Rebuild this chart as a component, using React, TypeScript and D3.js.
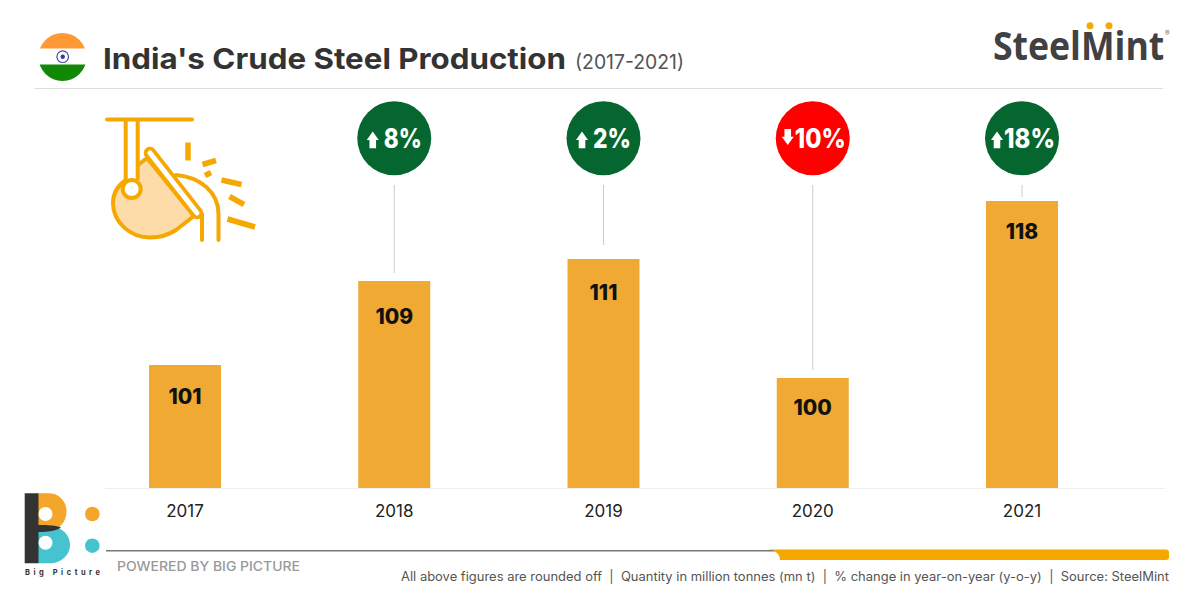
import { useEffect, useRef } from "react"
import * as d3 from "d3"

// printed figures
const years = ["2017", "2018", "2019", "2020", "2021"]
const productionLabels = ["101", "109", "111", "100", "118"]
// bar lengths (the original bars are not quite to scale with the rounded labels)
const barValues = [101.3, 109.7, 111.9, 100, 117.7]
const changeLabels = [null, "8%", "2%", "10%", "18%"]
const changeDirections = [0, 1, 1, -1, 1]

const FONT = "Inter, 'Open Sans', sans-serif"
const BAR = "#f0aa33"
const ICON = "#f5a800"
const GREEN = "#05672f"
const RED = "#fe0000"

type Svg = d3.Selection<SVGSVGElement, unknown, null, undefined>

function label(
  svg: Svg,
  text: string,
  x: number,
  y: number,
  size: number,
  weight: number,
  fill: string,
  width?: number,
  family = FONT
) {
  const t = svg
    .append("text")
    .text(text)
    .attr("x", x)
    .attr("y", y)
    .attr("font-family", family)
    .attr("font-size", size)
    .attr("font-weight", weight)
    .attr("fill", fill)
  if (width) t.attr("textLength", width).attr("lengthAdjust", "spacingAndGlyphs")
  return t
}

function drawFlag(svg: Svg) {
  svg.append("clipPath").attr("id", "flag-clip").append("circle").attr("cx", 62.5).attr("cy", 57).attr("r", 24)
  const g = svg.append("g").attr("clip-path", "url(#flag-clip)")
  g.append("rect").attr("x", 38).attr("y", 32).attr("width", 49).attr("height", 16.5).attr("fill", "#ff9933")
  g.append("rect").attr("x", 38).attr("y", 64.5).attr("width", 49).attr("height", 17).attr("fill", "#128807")
  svg.append("circle").attr("cx", 62.7).attr("cy", 56.7).attr("r", 5.8).attr("fill", "#fff").attr("stroke", "#4a4aa8").attr("stroke-width", 1.2)
  svg.append("circle").attr("cx", 62.7).attr("cy", 56.7).attr("r", 2.2).attr("fill", "#3a3a9a")
}

function drawLadle(svg: Svg) {
  const g = svg.append("g").attr("fill", "none").attr("stroke", ICON).attr("stroke-width", 4)
  // stream
  g.append("path")
    .attr("d", "M176 175C200 177 218.5 192 218.5 214V240")
    .attr("stroke-linecap", "round")
  g.append("path").attr("d", "M202 214V240").attr("stroke-linecap", "round")
  // ladle body
  g.append("path")
    .attr("d", "M147 158L138 165L126 180C117 186 113 194 113 203C113 222 130 237.5 150 237.5C162 237.5 170 234 176 230L194 216Z")
    .attr("fill", "#fddcaa")
    .attr("stroke-linejoin", "round")
  // hanger
  g.append("rect").attr("x", 125.7).attr("y", 120).attr("width", 12).attr("height", 60).attr("fill", "#fff").attr("stroke", "none")
  g.append("path").attr("d", "M107 119.5H192").attr("stroke-linecap", "round")
  g.append("path").attr("d", "M125.7 120V180M137.7 120V180")
  // rim
  g.append("path").attr("d", "M150 153L197 213").attr("stroke-width", 12.5).attr("stroke-linecap", "round")
  g.append("path").attr("d", "M150 153L197 213").attr("stroke", "#fff").attr("stroke-width", 5).attr("stroke-linecap", "round")
  g.append("circle").attr("cx", 131.7).attr("cy", 189).attr("r", 9).attr("fill", "#fff")
  // sparks
  const sparks = [
    "M188 142.5V160.5",
    "M202.5 164.5L216 160.5",
    "M205 175.5L211 172.5",
    "M221.5 180L241.5 184.5",
    "M229.5 196.5L244 204.5",
    "M227.5 219L255 227",
  ]
  g.append("g")
    .selectAll("path")
    .data(sparks)
    .join("path")
    .attr("d", (d) => d)
    .attr("stroke-width", 5.5)
}

function drawBigPicture(svg: Svg) {
  svg.append("path").attr("d", "M38 493.3H48A17.5 17.5 0 0 1 66.5 511C66.5 520 62 526 56 529L38 529Z").attr("fill", "#f4a62a")
  svg.append("path").attr("d", "M38 527H52A18 18 0 0 1 70 545C70 555 61 563.3 50 563.3H38Z").attr("fill", "#45c4d0")
  svg.append("path").attr("d", "M24.7 493.3H38.5V525C48 525 56 525.5 61 527.5C56 531 48 532 38.5 532V563.3H24.7Z").attr("fill", "#333")
  svg.append("circle").attr("cx", 45.5).attr("cy", 514).attr("r", 7).attr("fill", "#fff")
  svg.append("circle").attr("cx", 45.5).attr("cy", 542.7).attr("r", 7).attr("fill", "#fff")
  svg.append("circle").attr("cx", 92.3).attr("cy", 514).attr("r", 7.3).attr("fill", "#f4a62a")
  svg.append("circle").attr("cx", 92.3).attr("cy", 545.7).attr("r", 7.3).attr("fill", "#45c4d0")
  label(svg, "Big Picture", 25, 574.5, 7.5, 700, "#333", 75).attr("lengthAdjust", "spacing")
}

function drawSteelMint(svg: Svg) {
  label(svg, "SteelMint", 0, 0, 40, 700, "#414042", undefined, "'Open Sans', sans-serif")
    .attr("transform", "translate(993,60) scale(0.89,1)")
  svg.append("circle").attr("cx", 1090).attr("cy", 25.7).attr("r", 3.5).attr("fill", ICON)
  svg.append("circle").attr("cx", 1109).attr("cy", 25.7).attr("r", 3.5).attr("fill", ICON)
  label(svg, "®", 1165, 36, 7, 400, "#777")
}

export default function App() {
  const svgRef = useRef<SVGSVGElement | null>(null)

  useEffect(() => {
    if (!svgRef.current) return
    const svg = d3.select(svgRef.current)
    svg.selectAll("*").remove()

    const x = d3.scaleBand<string>().domain(years).range([11.75, 1195.25]).padding(0.656)
    const y = d3.scaleLinear().domain([89, 119]).range([488, 188])
    const badgeY = 138.3
    const connectorGaps = [0, 8, 14, 8, 4]
    const labelOffsets = [39, 43, 41, 37, 38]
    const centre = (year: string) => (x(year) ?? 0) + x.bandwidth() / 2

    drawFlag(svg)
    label(svg, "India's Crude Steel Production", 103, 68.5, 29, 700, "#333", 463)
    label(svg, "(2017-2021)", 575, 68.5, 20, 400, "#555", 109)
    drawSteelMint(svg)
    svg.append("line").attr("x1", 35).attr("x2", 1163).attr("y1", 88.5).attr("y2", 88.5).attr("stroke", "#ddd").attr("stroke-width", 1.2)
    drawLadle(svg)

    // connectors from badge to bar
    svg
      .append("g")
      .selectAll("line")
      .data(years.slice(1))
      .join("line")
      .attr("x1", (d) => centre(d))
      .attr("x2", (d) => centre(d))
      .attr("y1", 185)
      .attr("y2", (_, i) => y(barValues[i + 1]) - connectorGaps[i + 1])
      .attr("stroke", "#ccc")
      .attr("stroke-width", 1)

    // bars
    svg
      .append("g")
      .selectAll("rect")
      .data(years)
      .join("rect")
      .attr("x", (d) => x(d) ?? 0)
      .attr("y", (_, i) => y(barValues[i]))
      .attr("width", x.bandwidth())
      .attr("height", (_, i) => y(89) - y(barValues[i]))
      .attr("fill", BAR)

    svg
      .append("g")
      .selectAll("text")
      .data(years)
      .join("text")
      .text((_, i) => productionLabels[i])
      .attr("x", (d) => centre(d))
      .attr("y", (_, i) => y(barValues[i]) + labelOffsets[i])
      .attr("text-anchor", "middle")
      .attr("font-family", FONT)
      .attr("font-size", 21)
      .attr("font-weight", 800)
      .attr("fill", "#111")

    // x axis
    const axis = svg
      .append("g")
      .attr("transform", "translate(0,488)")
      .call(d3.axisBottom(x).tickSize(0).tickPadding(17))
    axis.select(".domain").attr("stroke", "#eee").attr("d", "M105,0.5H1165")
    axis.selectAll("text").attr("font-family", FONT).attr("font-size", 17).attr("fill", "#222")

    // change badges
    years.forEach((year, i) => {
      const text = changeLabels[i]
      if (!text) return
      const cx = centre(year)
      const dir = changeDirections[i]
      const short = text.length === 2
      const textWidth = short ? 38 : 51
      const left = cx - (textWidth + 17) / 2 + (short ? 0 : -1)
      svg.append("circle").attr("cx", cx).attr("cy", badgeY).attr("r", 37).attr("fill", dir > 0 ? GREEN : RED)
      const ax = left + (short ? 6 : 10)
      const tip = dir > 0 ? 131.5 : 145
      const shoulder = dir > 0 ? 140 : 136.7
      const tail = dir > 0 ? 148.3 : 129
      svg
        .append("path")
        .attr("d", `M${ax},${tip}L${ax + 6},${shoulder}L${ax + 3.3},${shoulder}L${ax + 3.3},${tail}L${ax - 3.3},${tail}L${ax - 3.3},${shoulder}L${ax - 6},${shoulder}Z`)
        .attr("fill", "#fff")
      label(svg, text, left + 17, 148.3, 27, 800, "#fff", textWidth)
    })

    // footer
    drawBigPicture(svg)
    svg.append("line").attr("x1", 106).attr("x2", 775).attr("y1", 550.7).attr("y2", 550.7).attr("stroke", "#777").attr("stroke-width", 1.4)
    svg
      .append("path")
      .attr("d", "M767 549.5H1166A3 3 0 0 1 1169 552.5V557A3 3 0 0 1 1166 560H780C780 554 775 549.5 767 549.5Z")
      .attr("fill", ICON)
    label(svg, "POWERED BY BIG PICTURE", 117, 570.5, 13, 500, "#999", 183)
    label(
      svg,
      "All above figures are rounded off\u00a0 |\u00a0 Quantity in million tonnes (mn t)\u00a0 |\u00a0 % change in year-on-year (y-o-y)\u00a0 |\u00a0 Source: SteelMint",
      401,
      580.7,
      12.5,
      400,
      "#555",
      768
    )
  }, [])

  return (
    <svg
      ref={svgRef}
      width={1200}
      height={600}
      viewBox="0 0 1200 600"
      style={{ position: "fixed", left: 0, top: 0, background: "#fff" }}
    />
  )
}
